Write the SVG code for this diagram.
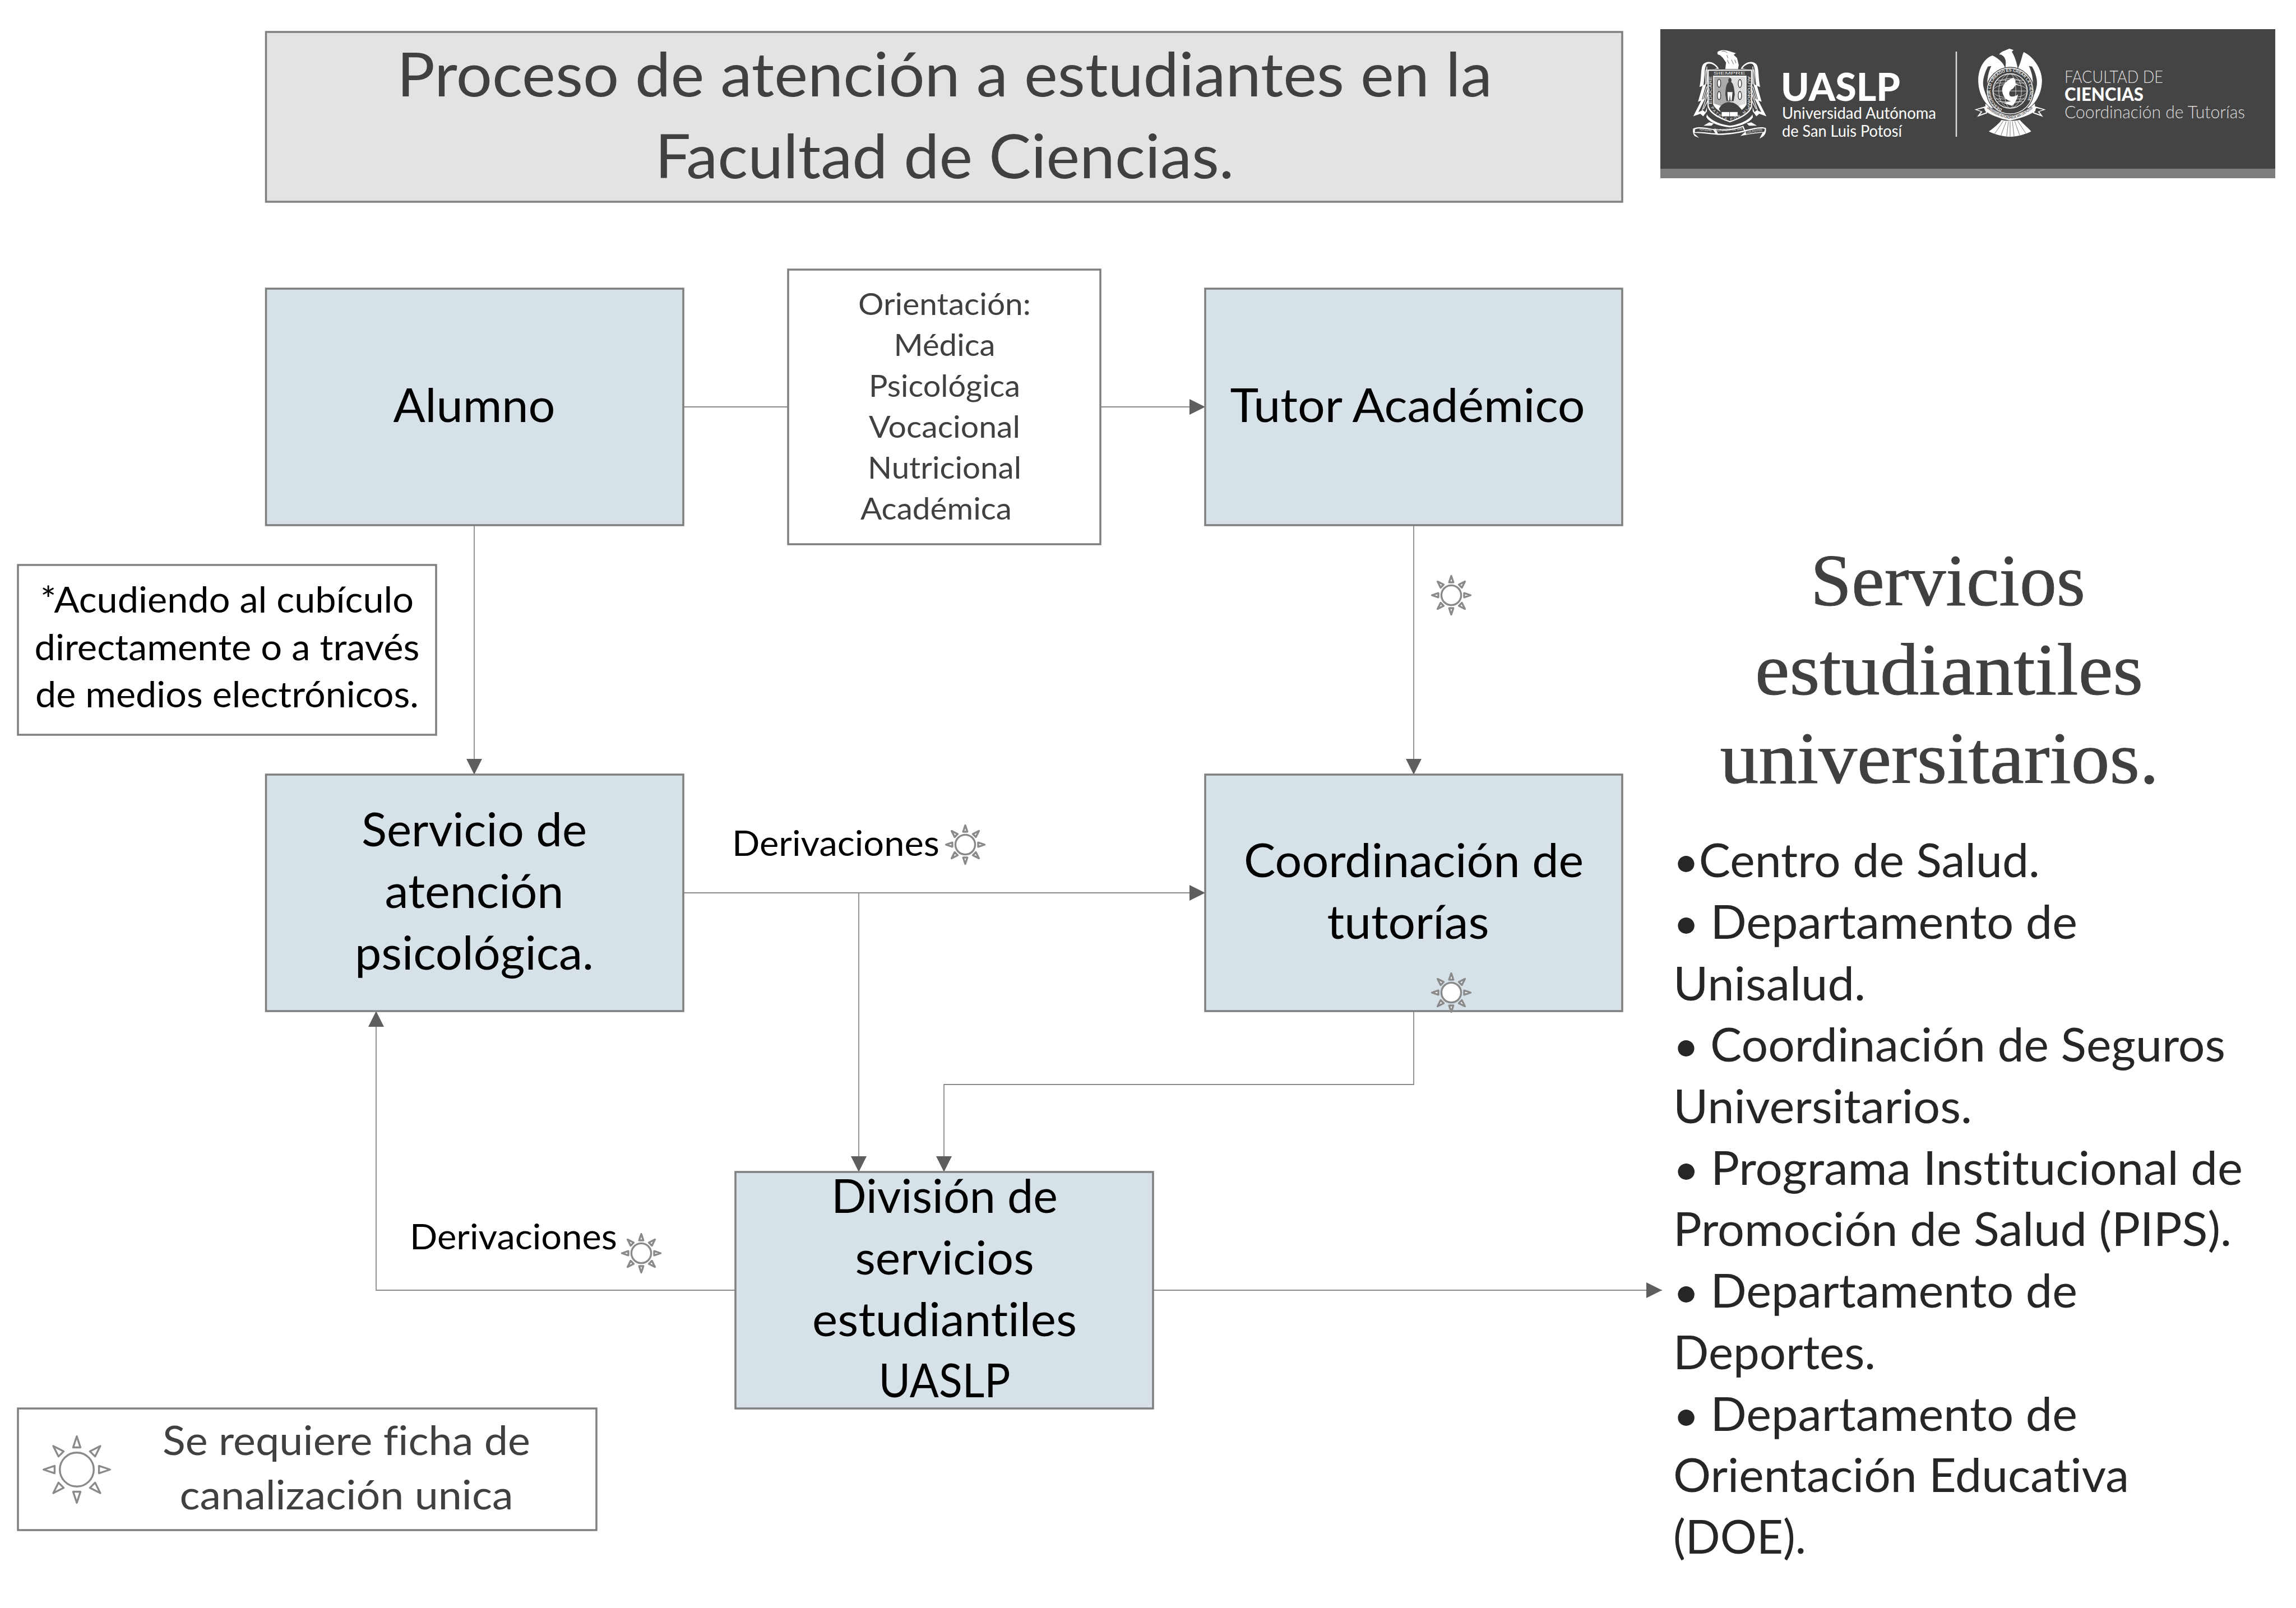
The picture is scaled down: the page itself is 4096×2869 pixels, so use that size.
<svg xmlns="http://www.w3.org/2000/svg" xmlns:xlink="http://www.w3.org/1999/xlink" width="4096" height="2869" viewBox="0 0 4096 2869">
<style>
text{font-family:Lato,"Noto Sans",sans-serif;font-variant-ligatures:none}
.box{fill:#d6e2e8;stroke:#7f7f7f;stroke-width:3.5}
.white{fill:#fff;stroke:#7f7f7f;stroke-width:3.5}
.grey{fill:#e3e3e3;stroke:#7f7f7f;stroke-width:3.5}
.c{text-anchor:middle}
.b82{font-size:83px;fill:#000}
.li{font-size:83px;fill:#262626}
.o{font-size:55px;fill:#404040}
.n{font-size:64px;fill:#000}
.d{font-size:61px;fill:#000}
.l{font-size:72px;fill:#404040}
.t{font-size:109px;fill:#404040}
.h{font-family:"Liberation Serif",serif;font-size:132px;fill:#404040;stroke:#404040;stroke-width:1}
.conn{fill:none;stroke:#8a8a8a;stroke-width:1.8}
.sunp{fill:#fff;stroke:#8a8a8a;stroke-width:3.4;stroke-linejoin:round;vector-effect:non-scaling-stroke}
.lw{fill:#fff}
.ld{fill:#444}
.dl{fill:none;stroke:#444;stroke-width:4}
.wl{fill:none;stroke:#eee;stroke-width:7}
.cr{fill:#eee;font-family:"Liberation Sans",sans-serif}
</style>
<defs>
<marker id="ah" markerUnits="userSpaceOnUse" markerWidth="28" markerHeight="28" refX="28" refY="14" orient="auto"><path d="M0,0L28,14L0,28Z" fill="#5e5e5e"/></marker>
<polygon id="ray" class="sunp" points="0,-34.5 3.8,-23 -3.8,-23"/>
<g id="sun">
<circle class="sunp" r="17.6"/>
<use xlink:href="#ray"/><use xlink:href="#ray" transform="rotate(45)"/><use xlink:href="#ray" transform="rotate(90)"/><use xlink:href="#ray" transform="rotate(135)"/><use xlink:href="#ray" transform="rotate(180)"/><use xlink:href="#ray" transform="rotate(225)"/><use xlink:href="#ray" transform="rotate(270)"/><use xlink:href="#ray" transform="rotate(315)"/>
</g>
<path id="ringT" d="M255,598A172,172 0 1 1 395,598"/>
</defs>
<rect width="4096" height="2869" fill="#fff"/>
<g id="connectors">
<path class="conn" d="M1219,726H1406"/>
<path class="conn" d="M1963,726H2150" marker-end="url(#ah)"/>
<path class="conn" d="M846,937V1382" marker-end="url(#ah)"/>
<path class="conn" d="M2522,937V1382" marker-end="url(#ah)"/>
<path class="conn" d="M1219,1593H2150" marker-end="url(#ah)"/>
<path class="conn" d="M1532,1593V2091" marker-end="url(#ah)"/>
<path class="conn" d="M2522,1804V1935H1684V2091" marker-end="url(#ah)"/>
<path class="conn" d="M1312,2302H671V1804" marker-end="url(#ah)"/>
<path class="conn" d="M2057,2302H2965" marker-end="url(#ah)"/>
</g>
<g id="title"><rect class="grey" x="474.5" y="57" width="2419.5" height="303"/>
<text class="t c" x="1685" y="172" textLength="1954" lengthAdjust="spacingAndGlyphs">Proceso de atención a estudiantes en la</text>
<text class="t c" x="1685" y="318" textLength="1033" lengthAdjust="spacingAndGlyphs">Facultad de Ciencias.</text></g>
<g id="logo">
<rect x="2962" y="52" width="1097" height="250" fill="#444"/><rect x="2962" y="301" width="1097" height="17" fill="#7d7d7d"/>
<g transform="translate(3014.6,73) scale(.203)">
<path class="lw" d="M242,100C255,80 300,78 330,85L405,108L385,122L415,150L430,212L424,248H312L318,190C300,160 290,145 265,125L245,118Z"/>
<path class="dl" d="M280,95C295,85 310,90 330,105M325,125L335,150M330,170L345,200M365,165L385,205M395,165L405,195"/>
<g id="wing"><path class="lw" d="M256,245C225,185 155,165 118,205C92,240 105,320 85,405L112,395L72,535L100,525L30,662L92,640L118,662L150,620L160,300L162,250Z"/>
<path class="ld" d="M240,240C215,205 175,190 150,205C125,230 135,300 120,390L145,375L105,515L135,505L75,625L115,610L135,625L155,570L165,260Z"/>
<path class="wl" d="M145,250C125,300 150,330 135,390M150,400L115,510M155,470L105,620M130,210C120,290 130,300 110,395M160,420L125,520M160,520L120,600M150,225C145,280 155,320 148,380"/></g>
<use xlink:href="#wing" transform="translate(703,0) scale(-1,1)"/>
<path class="lw" d="M155,252H548V570C540,640 430,690 352,715C270,690 165,640 155,570Z"/>
<path class="ld" d="M166,262H538V568C530,630 425,680 352,705C280,680 175,630 166,568Z"/>
<path class="lw" d="M205,306H498V560C470,610 410,640 352,650C295,640 230,610 205,560Z"/>
<path d="M213,314H352V600L213,550Z" fill="#aaa"/>
<path d="M352,314H490V550L352,600Z" fill="#ddd"/>
<path class="ld" d="M352,325C368,325 370,350 362,360C385,375 390,420 395,470L385,530H322L312,470C315,420 320,375 342,360C335,350 338,325 352,325Z"/>
<path class="lw" d="M330,450H375L368,525H358L352,470L346,525H336Z"/>
<ellipse class="ld" cx="257" cy="372" rx="18" ry="40"/><ellipse class="ld" cx="440" cy="375" rx="18" ry="40"/><ellipse class="ld" cx="257" cy="480" rx="18" ry="40"/><ellipse class="ld" cx="440" cy="480" rx="18" ry="40"/>
<ellipse class="lw" cx="257" cy="372" rx="11" ry="32"/><ellipse class="lw" cx="440" cy="375" rx="11" ry="32"/><ellipse class="lw" cx="257" cy="480" rx="11" ry="32"/><ellipse class="lw" cx="440" cy="480" rx="11" ry="32"/>
<path class="ld" d="M255,600C270,560 310,535 350,538C400,540 430,570 460,610L420,640L290,645Z"/>
<rect class="lw" x="280" y="625" width="140" height="38"/><path class="ld" d="M348,625h4v38h-4z"/>
<text class="cr" x="348" y="298" font-size="32" text-anchor="middle" textLength="280" lengthAdjust="spacingAndGlyphs">SIEMPRE</text>
<text class="cr" transform="translate(194,555) rotate(-90)" font-size="32" textLength="245" lengthAdjust="spacingAndGlyphs">EDUCARE</text>
<text class="cr" transform="translate(507,310) rotate(90)" font-size="32" textLength="295" lengthAdjust="spacingAndGlyphs">AUTONOMA</text>
<path id="pm" fill="none" d="M182,580C210,650 300,695 352,700C410,695 495,650 525,580"/>
<text class="cr" font-size="32"><textPath xlink:href="#pm" textLength="400" startOffset="5">PATRIA POR MI</textPath></text>
<path class="lw" d="M150,645C170,690 260,735 352,745C440,735 530,690 550,645L555,670C525,720 440,752 352,760C260,752 175,720 145,670Z"/>
<path class="lw" d="M120,745L170,715L210,725L190,745ZM590,745L540,715L500,725L520,745Z"/>
<path class="lw" d="M30,770C90,745 160,770 215,775L245,825L190,820C130,815 85,805 35,810L82,852L45,838C30,825 22,790 30,770Z"/>
<path class="lw" d="M215,770C270,790 400,775 470,745L490,795C420,815 290,830 240,825Z"/>
<path class="lw" d="M470,785C540,775 610,745 668,765C675,790 665,825 640,842L612,858L640,805C590,810 520,820 445,835L490,795Z"/>
<path class="ld" d="M45,778C90,760 160,778 205,782L225,812C160,808 100,795 45,803ZM230,780C290,795 390,785 462,757L476,787C410,805 300,815 248,815ZM490,795C540,785 610,760 658,772C660,785 655,795 650,800C590,800 530,812 495,822Z"/>
<text class="cr" font-size="30" transform="translate(82,785) rotate(5)" textLength="110" lengthAdjust="spacingAndGlyphs">VERSIDAD</text>
<text class="cr" font-size="30" transform="translate(232,798) rotate(-4)" textLength="230" lengthAdjust="spacingAndGlyphs">AUTONOMA DE SAN</text>
<text class="cr" font-size="30" transform="translate(492,820) rotate(-13)" textLength="150" lengthAdjust="spacingAndGlyphs">LUIS POTOSI</text>
</g>
<text x="3177" y="180" font-size="69" font-weight="900" fill="#fff" textLength="213" lengthAdjust="spacingAndGlyphs">UASLP</text>
<text x="3179" y="212" font-size="29" fill="#fff" textLength="275" lengthAdjust="spacingAndGlyphs">Universidad Autónoma</text>
<text x="3179" y="244" font-size="29" fill="#fff" textLength="214" lengthAdjust="spacingAndGlyphs">de San Luis Potosí</text>
<path d="M3490,92V244" stroke="#ddd" stroke-width="2.5"/>
<g transform="translate(3520,73) scale(.203)">
<path class="lw" d="M228,122C240,92 285,85 318,68L355,80L340,95C362,130 385,190 392,245C425,180 430,120 445,98C520,130 605,240 605,345C605,450 560,540 490,590H160C90,540 45,450 45,345C45,240 100,150 170,128C215,150 270,190 283,245C288,195 292,170 272,142C258,125 240,115 228,122Z"/>
<path class="ld" d="M130,225C100,280 80,350 90,400C105,470 130,510 160,540C120,460 105,330 160,220Z"/>
<path class="ld" d="M518,225C550,280 570,350 558,400C545,470 520,510 490,540C530,460 545,330 490,220Z"/>
<circle class="ld" cx="325" cy="440" r="212"/>
<circle class="lw" cx="325" cy="440" r="205"/>
<circle class="ld" cx="325" cy="440" r="198"/>
<circle class="lw" cx="325" cy="440" r="155"/>
<circle class="ld" cx="325" cy="440" r="150"/>
<g fill="none" stroke="#eee" stroke-width="4"><circle cx="325" cy="440" r="150"/><ellipse cx="325" cy="440" rx="150" ry="60"/><ellipse cx="325" cy="440" rx="150" ry="110"/><ellipse cx="325" cy="440" rx="100" ry="150"/><ellipse cx="325" cy="440" rx="50" ry="150"/><path d="M175,440H475M190,370H460M190,510H460M205,345H445M205,535H445"/></g>
<path class="lw" d="M345,325C365,325 378,350 370,372L415,395L375,385L350,420C330,430 315,440 318,470C322,500 370,490 395,470C385,510 370,550 340,570L268,545L330,530C280,520 255,470 255,430C255,385 300,345 345,325Z"/>
<text class="cr" font-size="36" font-weight="bold"><textPath xlink:href="#ringT" textLength="820" lengthAdjust="spacingAndGlyphs">DESCUBRIR LO CREADO ES CREAR LA CIENCIA</textPath></text>
<path class="lw" d="M105,575L12,603L68,622L35,668L125,635Z"/>
<path class="ld" d="M95,590L35,603L82,622L60,648L115,628Z"/>
<path class="lw" d="M545,575L638,603L582,622L615,668L525,635Z"/>
<path class="ld" d="M555,590L615,603L568,622L590,648L535,628Z"/>
<path class="lw" d="M108,550C180,620 290,655 325,658C370,655 470,620 542,550L548,615C490,660 380,690 325,700C270,690 160,660 105,615Z"/>
<path id="rb" fill="none" d="M120,590C180,650 290,685 325,685C370,685 470,650 535,580"/>
<text fill="#444" font-family="Liberation Sans" font-weight="bold" font-size="34"><textPath xlink:href="#rb" textLength="455" lengthAdjust="spacingAndGlyphs">UNIVERSIDAD AUTONOMA DE SAN LUIS POTOSI</textPath></text>
<path class="lw" d="M250,695C290,705 360,705 410,695C440,730 490,770 510,795C450,825 380,840 325,842C270,840 195,825 138,795C175,770 225,730 250,695Z"/>
<path d="M265,705L190,815M290,708L245,830M310,708L295,838M325,708V842M345,708L360,838M365,706L410,830M390,702L465,815" fill="none" stroke="#444" stroke-width="3.5"/>
</g>
<text x="3683" y="148" font-size="32" font-weight="300" fill="#ddd" textLength="176" lengthAdjust="spacingAndGlyphs">FACULTAD DE</text>
<text x="3683" y="180" font-size="33" font-weight="900" fill="#fff" textLength="141" lengthAdjust="spacingAndGlyphs">CIENCIAS</text>
<text x="3683" y="211" font-size="32" font-weight="300" fill="#ddd" textLength="322" lengthAdjust="spacingAndGlyphs">Coordinación de Tutorías</text>
</g>
<g id="alumno"><rect class="box" x="474.5" y="515" width="744.5" height="422"/><text class="b82 c" x="846" y="753" textLength="289" lengthAdjust="spacingAndGlyphs">Alumno</text></g>
<g id="orientacion"><rect class="white" x="1406" y="481" width="557" height="490"/>
<text class="o c" x="1685" y="562" textLength="308" lengthAdjust="spacingAndGlyphs">Orientación:</text>
<text class="o c" x="1685" y="635" textLength="181" lengthAdjust="spacingAndGlyphs">Médica</text>
<text class="o c" x="1685" y="708" textLength="270" lengthAdjust="spacingAndGlyphs">Psicológica</text>
<text class="o c" x="1685" y="781" textLength="270" lengthAdjust="spacingAndGlyphs">Vocacional</text>
<text class="o c" x="1685" y="854" textLength="274" lengthAdjust="spacingAndGlyphs">Nutricional</text>
<text class="o c" x="1670" y="927" textLength="270" lengthAdjust="spacingAndGlyphs">Académica</text></g>
<g id="tutor"><rect class="box" x="2150" y="515" width="744" height="422"/><text class="b82 c" x="2511" y="753" textLength="633" lengthAdjust="spacingAndGlyphs">Tutor Académico</text></g>
<g id="nota"><rect class="white" x="32" y="1008" width="746" height="303"/>
<text class="n c" x="405" y="1093" textLength="666" lengthAdjust="spacingAndGlyphs">*Acudiendo al cubículo</text>
<text class="n c" x="405" y="1178" textLength="687" lengthAdjust="spacingAndGlyphs">directamente o a través</text>
<text class="n c" x="405" y="1262" textLength="684" lengthAdjust="spacingAndGlyphs">de medios electrónicos.</text></g>
<g id="servicio"><rect class="box" x="474.5" y="1382" width="744.5" height="422"/>
<text class="b82 c" x="846" y="1510" textLength="402" lengthAdjust="spacingAndGlyphs">Servicio de</text>
<text class="b82 c" x="846" y="1620" textLength="319" lengthAdjust="spacingAndGlyphs">atención</text>
<text class="b82 c" x="846" y="1730" textLength="426" lengthAdjust="spacingAndGlyphs">psicológica.</text></g>
<g id="coordinacion"><rect class="box" x="2150" y="1382" width="744" height="422"/>
<text class="b82 c" x="2522" y="1565" textLength="606" lengthAdjust="spacingAndGlyphs">Coordinación de</text>
<text class="b82 c" x="2512" y="1675" textLength="289" lengthAdjust="spacingAndGlyphs">tutorías</text>
<use xlink:href="#sun" x="2589" y="1771"/></g>
<g id="division"><rect class="box" x="1312" y="2091" width="745" height="422"/>
<text class="b82 c" x="1685" y="2164" textLength="404" lengthAdjust="spacingAndGlyphs">División de</text>
<text class="b82 c" x="1685" y="2274" textLength="319" lengthAdjust="spacingAndGlyphs">servicios</text>
<text class="b82 c" x="1685" y="2384" textLength="472" lengthAdjust="spacingAndGlyphs">estudiantiles</text>
<text class="b82 c" x="1685" y="2493" textLength="235" lengthAdjust="spacingAndGlyphs">UASLP</text></g>
<g id="etiquetas">
<text class="d" x="1306" y="1527" textLength="370" lengthAdjust="spacingAndGlyphs">Derivaciones</text>
<use xlink:href="#sun" x="1722" y="1507"/>
<text class="d" x="731" y="2229" textLength="370" lengthAdjust="spacingAndGlyphs">Derivaciones</text>
<use xlink:href="#sun" x="1144" y="2236"/>
<use xlink:href="#sun" x="2589" y="1062"/>
</g>
<g id="leyenda"><rect class="white" x="32" y="2513" width="1032" height="217"/>
<use xlink:href="#sun" transform="translate(137,2622) scale(1.72)"/>
<text class="l c" x="618" y="2596" textLength="656" lengthAdjust="spacingAndGlyphs">Se requiere ficha de</text>
<text class="l c" x="618" y="2693" textLength="595" lengthAdjust="spacingAndGlyphs">canalización unica</text></g>
<g id="servicios">
<text class="h c" x="3475" y="1080" textLength="490" lengthAdjust="spacingAndGlyphs">Servicios</text>
<text class="h c" x="3477" y="1239" textLength="692" lengthAdjust="spacingAndGlyphs">estudiantiles</text>
<text class="h c" x="3460" y="1397" textLength="783" lengthAdjust="spacingAndGlyphs">universitarios.</text>
<text class="li" x="2985" y="1565" textLength="654" lengthAdjust="spacingAndGlyphs"><tspan font-size="78">•</tspan>Centro de Salud.</text>
<text class="li" x="2985" y="1675" textLength="721" lengthAdjust="spacingAndGlyphs"><tspan font-size="78">• </tspan>Departamento de</text>
<text class="li" x="2985" y="1785" textLength="343" lengthAdjust="spacingAndGlyphs">Unisalud.</text>
<text class="li" x="2985" y="1894" textLength="985" lengthAdjust="spacingAndGlyphs"><tspan font-size="78">• </tspan>Coordinación de Seguros</text>
<text class="li" x="2985" y="2004" textLength="533" lengthAdjust="spacingAndGlyphs">Universitarios.</text>
<text class="li" x="2985" y="2114" textLength="1016" lengthAdjust="spacingAndGlyphs"><tspan font-size="78">• </tspan>Programa Institucional de</text>
<text class="li" x="2985" y="2223" textLength="996" lengthAdjust="spacingAndGlyphs">Promoción de Salud (PIPS).</text>
<text class="li" x="2985" y="2333" textLength="721" lengthAdjust="spacingAndGlyphs"><tspan font-size="78">• </tspan>Departamento de</text>
<text class="li" x="2985" y="2443" textLength="361" lengthAdjust="spacingAndGlyphs">Deportes.</text>
<text class="li" x="2985" y="2553" textLength="721" lengthAdjust="spacingAndGlyphs"><tspan font-size="78">• </tspan>Departamento de</text>
<text class="li" x="2985" y="2662" textLength="813" lengthAdjust="spacingAndGlyphs">Orientación Educativa</text>
<text class="li" x="2985" y="2772" textLength="237" lengthAdjust="spacingAndGlyphs">(DOE).</text>
</g>
</svg>
